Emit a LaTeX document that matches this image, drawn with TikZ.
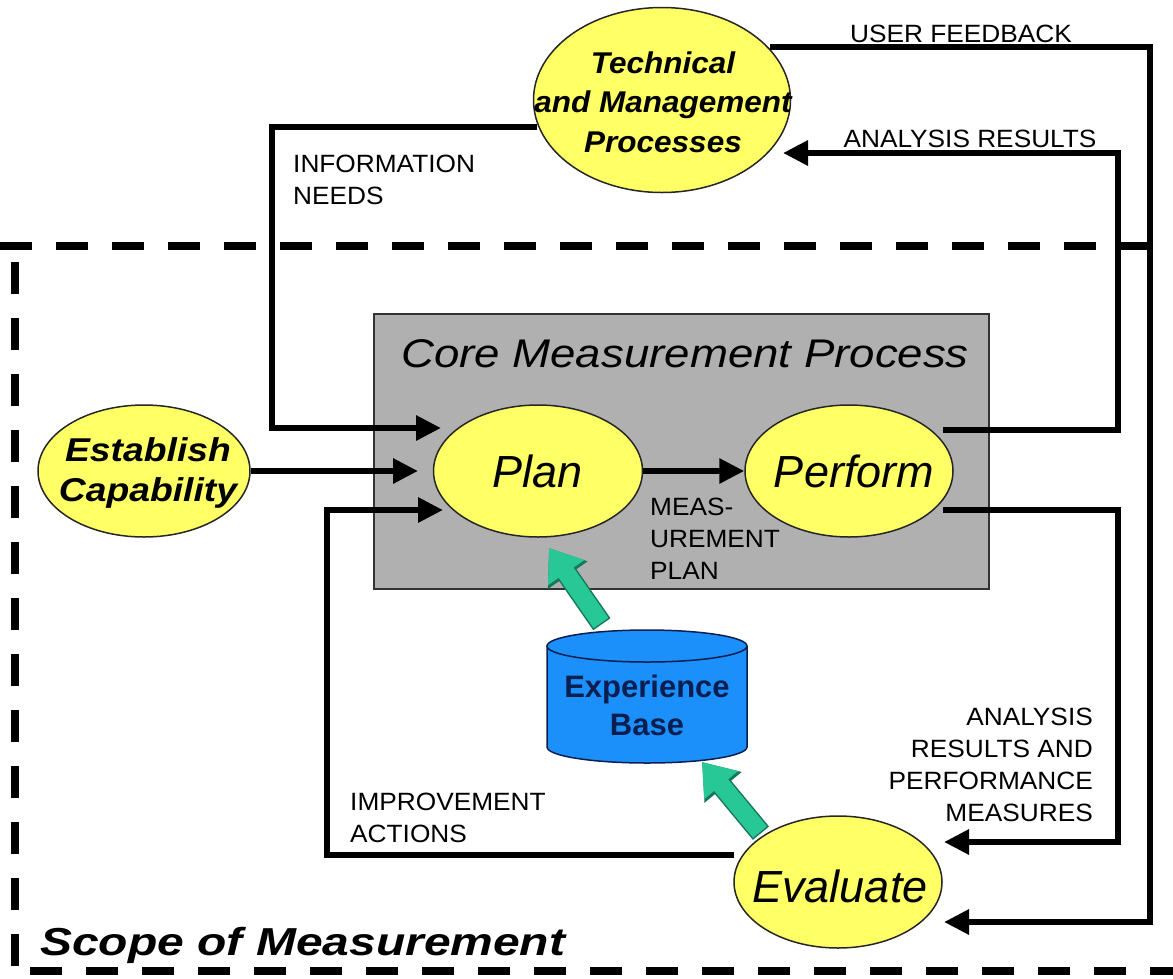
\documentclass[tikz,border=0pt]{standalone}
\usepackage{fontspec}
\setmainfont{Liberation Sans}
\newfontfamily\lblfont[FakeStretch=1.05]{Liberation Sans}
\newfontfamily\scopefont[FakeStretch=1.23]{Liberation Sans}
\newfontfamily\estfont[FakeStretch=1.13]{Liberation Sans}
\newfontfamily\corefont[FakeStretch=1.14]{Liberation Sans}
\newfontfamily\techfont[FakeStretch=1.05]{Liberation Sans}
\usetikzlibrary{arrows.meta,shapes.geometric}

\definecolor{procyellow}{RGB}{255,255,102}
\definecolor{coregray}{RGB}{176,176,176}
\definecolor{expblue}{RGB}{28,144,250}
\definecolor{expline}{RGB}{10,30,80}
\definecolor{gfill}{RGB}{40,200,150}
\definecolor{gline}{RGB}{20,120,90}

\begin{document}
\begin{tikzpicture}[x=1pt,y=-1pt,
  proc/.style={ellipse, draw=black!85, line width=1.5pt, fill=procyellow, inner sep=0pt},
  proctext/.style={font=\itshape\fontsize{45}{54}\selectfont, inner sep=0pt},
  conn/.style={line width=6pt, draw=black},
  arr/.style={conn, -{Triangle[length=25pt,width=24pt]}},
  lbl/.style={font=\lblfont\fontsize{25}{32}\selectfont, inner sep=0pt},
  scopeline/.style={line width=8pt, dash pattern=on 32pt off 24pt},
  garr/.style={line width=18pt, draw=gfill, -{Triangle[length=30pt,width=42pt]}},
  garrout/.style={line width=21pt, draw=gline, -{Triangle[length=33pt,width=46pt]}, shorten <=-1.5pt},
]
\useasboundingbox (0,0) rectangle (1173,978);
\clip (0,0) rectangle (1173,978);

% scope of measurement (dashed frame)
\draw[scopeline] (0,246) -- (1180,246);
\draw[scopeline] (15,262) -- (15,990);
\draw[scopeline] (30,971) -- (1180,971);
\node[font=\scopefont\bfseries\itshape\fontsize{39}{47}\selectfont, anchor=base west, inner sep=0pt] (scope) at (40,955) {Scope of Measurement};

% core measurement process box
\node[draw=black!80, line width=1.5pt, fill=coregray, minimum width=615pt, minimum height=275pt, inner sep=0pt, anchor=north west] (core) at (373,313) {};
\node[font=\corefont\itshape\fontsize{40}{48}\selectfont, anchor=base west, inner sep=0pt] (coretitle) at (401,367) {Core Measurement Process};

% processes
\node[proc, minimum width=257pt, minimum height=185pt] (tech) at (662,100) {};
\node[font=\techfont\bfseries\itshape\fontsize{30}{39.5}\selectfont, align=center, inner sep=0pt] (techt) at (663,102) {Technical\\and Management\\Processes};

\node[proc, minimum width=212pt, minimum height=132pt] (est) at (144,471) {};
\node[font=\estfont\bfseries\itshape\fontsize{33}{40}\selectfont, align=center, inner sep=0pt] (estt) at (148,473) {Establish\\Capability};

\node[proc, minimum width=209pt, minimum height=132pt] (plan) at (538,471) {};
\node[proctext] (plant) at (538,471) {Plan};
\node[proc, minimum width=208pt, minimum height=132pt] (perform) at (849,471) {};
\node[proctext] (performt) at (854,471) {Perform};
\node[proc, minimum width=208pt, minimum height=132pt] (eval) at (838,882) {};
\node[proctext] (evalt) at (840,886) {Evaluate};

% experience base (cylinder)
\fill[expblue] (547,646) -- (547,747) arc[start angle=180, end angle=0, x radius=100, y radius=16] -- (747,646) -- cycle;
\draw[expline, line width=1.5pt] (547,646) -- (547,747) arc[start angle=180, end angle=0, x radius=100, y radius=16] -- (747,646);
\draw[expline, fill=expblue, line width=1.5pt] (647,646) ellipse [x radius=100, y radius=16];
\node[font=\bfseries\fontsize{31}{38}\selectfont, text=expline, align=center, inner sep=0pt] (exp) at (647,705) {Experience\\Base};

% connector end points
\coordinate (techUF) at (770,47);
\coordinate (ufA) at (1150,47);
\coordinate (ufB) at (1150,922);
\coordinate (evalIn2) at (944,922);

\coordinate (perfOut1) at (943,430);
\coordinate (arA) at (1118,430);
\coordinate (arB) at (1118,153);
\coordinate (techIn) at (783,153);

\coordinate (techOut) at (537,127);
\coordinate (inA) at (272,127);
\coordinate (inB) at (272,428);
\coordinate (planIn1) at (441,428);

\coordinate (planIn2) at (418,471);

\coordinate (perfOut2) at (943,510);
\coordinate (apA) at (1118,510);
\coordinate (apB) at (1118,842);
\coordinate (evalIn1) at (944,842);

\coordinate (evalOut) at (734,855);
\coordinate (imA) at (327,855);
\coordinate (imB) at (327,510);
\coordinate (planIn3) at (443,510);

\coordinate (g1s) at (601,623);
\coordinate (g1e) at (549,548);
\coordinate (g2s) at (760,832);
\coordinate (g2e) at (702,762);

% connectors
\draw[arr] (techUF) -- (ufA) -- (ufB) -- (evalIn2);
\draw[arr] (perfOut1) -- (arA) -- (arB) -- (techIn);
\draw[arr] (techOut) -- (inA) -- (inB) -- (planIn1);
\draw[arr] (est.east) -- (planIn2);
\draw[arr] (plan.east) -- (perform.west);
\draw[arr] (perfOut2) -- (apA) -- (apB) -- (evalIn1);
\draw[arr] (evalOut) -- (imA) -- (imB) -- (planIn3);

\draw[garrout] (g1s) -- (g1e);
\draw[garr] (g1s) -- (g1e);
\draw[garrout] (g2s) -- (g2e);
\draw[garr] (g2s) -- (g2e);

% labels
\node[lbl, anchor=base] (uflbl) at (961,42) {USER FEEDBACK};
\node[lbl, anchor=base] (arlbl) at (970,147) {ANALYSIS RESULTS};
\node[lbl, anchor=north west, align=left] (inlbl) at (293,155) {INFORMATION\\NEEDS};
\node[lbl, anchor=north west, align=left] (mplbl) at (650,498) {MEAS-\\UREMENT\\PLAN};
\node[lbl, anchor=north west, align=left] (imlbl) at (350,793) {IMPROVEMENT\\ACTIONS};
\node[lbl, anchor=north east, align=right] (aplbl) at (1093,708) {ANALYSIS\\RESULTS AND\\PERFORMANCE\\MEASURES};
\end{tikzpicture}
\end{document}
